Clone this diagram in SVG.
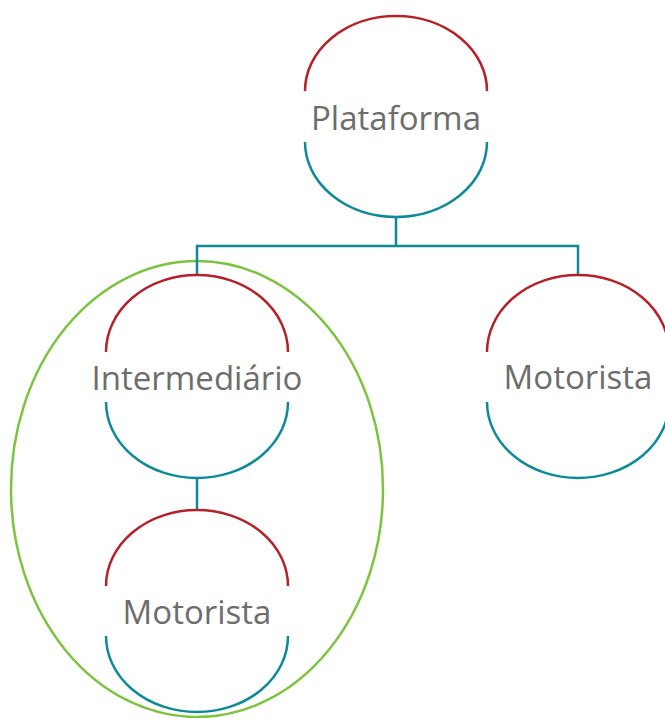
<svg xmlns="http://www.w3.org/2000/svg" width="665" height="718" viewBox="0 0 665 718">
<style>
.top{fill:none;stroke:#b3212a;stroke-width:2.5}
.bot{fill:none;stroke:#0e8a96;stroke-width:2.5}
.con{fill:none;stroke:#0e8a96;stroke-width:2.5}
.grp{fill:none;stroke:#7dc242;stroke-width:2.5}
.lbl{font-family:"Open Sans","Noto Sans",sans-serif;font-size:33px;fill:#6d6d6d;text-anchor:middle}
</style>
<rect width="665" height="718" fill="#ffffff"/>
<ellipse id="group" class="grp" cx="197" cy="489" rx="186" ry="228"/>
<g id="connectors">
<path class="con" d="M396,217 V246 M197,275 V246 H578 V275"/>
<path class="con" d="M197,478 V510"/>
</g>
<g id="plataforma">
<path class="top" d="M305,91 A91,75 0 0 1 487,91"/>
<path class="bot" d="M305,142 A91,75 0 0 0 487,142"/>
<text class="lbl" x="396" y="130">Plataforma</text>
</g>
<g id="intermediario">
<path class="top" d="M106,352 A91,77 0 0 1 288,352"/>
<path class="bot" d="M106,402 A91,76 0 0 0 288,402"/>
<text class="lbl" x="197" y="390">Intermediário</text>
</g>
<g id="motorista1">
<path class="top" d="M487,352 A91,77 0 0 1 669,352"/>
<path class="bot" d="M487,402 A91,76 0 0 0 669,402"/>
<text class="lbl" x="578" y="389">Motorista</text>
</g>
<g id="motorista2">
<path class="top" d="M106,586 A91,76 0 0 1 288,586"/>
<path class="bot" d="M106,636 A91,76 0 0 0 288,636"/>
<text class="lbl" x="197" y="624">Motorista</text>
</g>
</svg>
